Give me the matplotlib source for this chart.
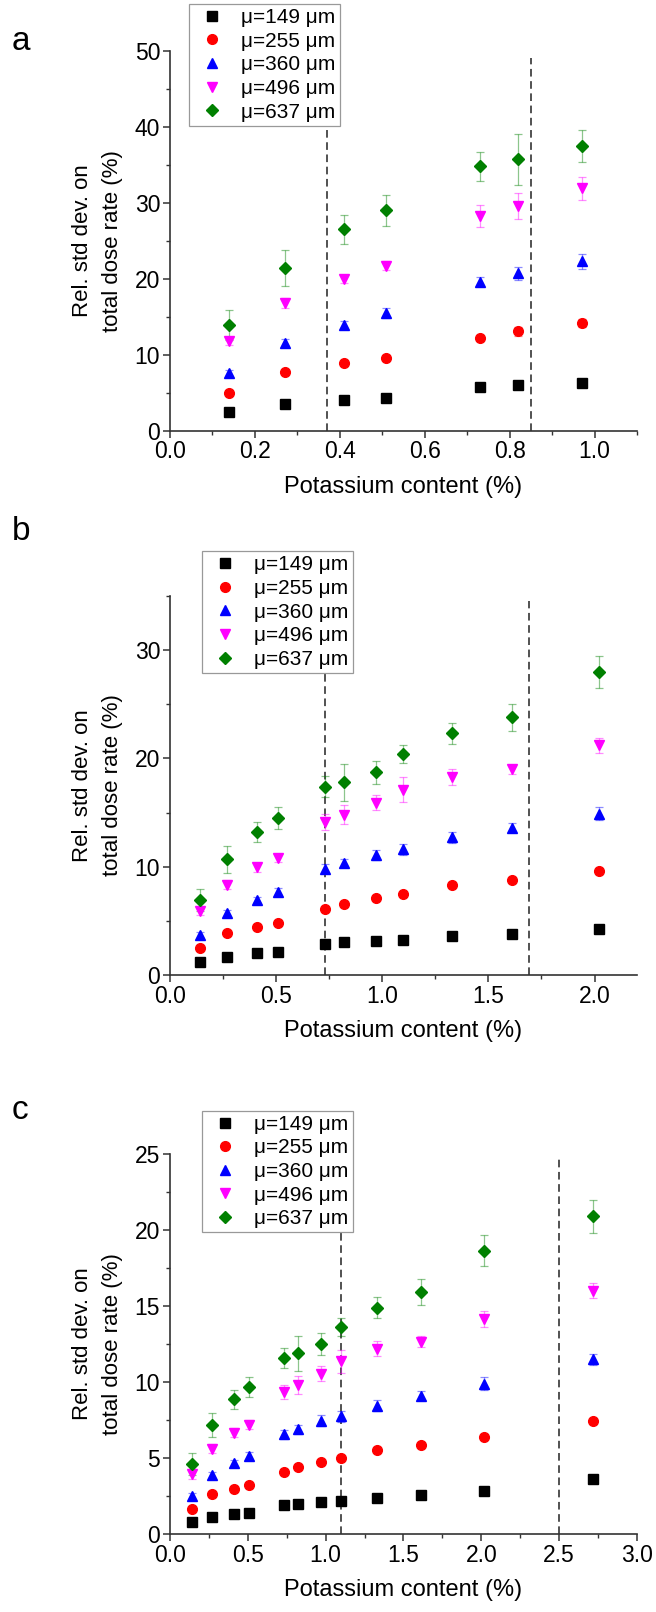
"""
Relative standard deviation on the total dose rate versus potassium content,
for five mean grain sizes (three sample sets a, b, c).
"""

import matplotlib
matplotlib.use("Agg")
import matplotlib.pyplot as plt
from matplotlib.ticker import MultipleLocator, FormatStrFormatter

plt.rcParams["font.family"] = ["Liberation Sans", "DejaVu Sans"]

# ── series definitions ───────────────────────────────────────────────────────
LABELS = ["μ=149 μm", "μ=255 μm", "μ=360 μm", "μ=496 μm", "μ=637 μm"]
COLORS = ["#000000", "#ff0000", "#0000ff", "#ff00ff", "#008000"]
MARKERS = ["s", "o", "^", "v", "D"]

# ── set a ────────────────────────────────────────────────────────────────────
K_A = [0.14, 0.27, 0.41, 0.51, 0.73, 0.82, 0.97]
A_149 = [2.4, 3.5, 4.0, 4.3, 5.7, 6.0, 6.25]
A_255 = [5.0, 7.7, 8.9, 9.6, 12.2, 13.1, 14.2]
A_360 = [7.6, 11.6, 13.9, 15.5, 19.6, 20.7, 22.3]
A_496 = [11.8, 16.8, 20.0, 21.7, 28.3, 29.6, 31.9]
A_637 = [13.9, 21.4, 26.5, 29.0, 34.8, 35.7, 37.5]
A_149_ERR = [0.2, 0.2, 0.2, 0.2, 0.2, 0.2, 0.2]
A_255_ERR = [0.3, 0.3, 0.3, 0.3, 0.4, 0.6, 0.5]
A_360_ERR = [0.4, 0.5, 0.5, 0.6, 0.6, 0.8, 1.0]
A_496_ERR = [0.5, 0.7, 0.5, 0.6, 1.45, 1.7, 1.5]
A_637_ERR = [2.0, 2.4, 1.9, 2.0, 1.9, 3.4, 2.1]
A_BOUNDS = [0.37, 0.85]

# ── set b ────────────────────────────────────────────────────────────────────
K_B = [0.14, 0.27, 0.41, 0.51, 0.73, 0.82, 0.97, 1.10, 1.33, 1.61, 2.02]
B_149 = [1.2, 1.7, 2.0, 2.15, 2.85, 3.0, 3.1, 3.2, 3.55, 3.8, 4.2]
B_255 = [2.5, 3.85, 4.45, 4.8, 6.1, 6.55, 7.1, 7.5, 8.35, 8.75, 9.6]
B_360 = [3.7, 5.7, 6.9, 7.7, 9.8, 10.35, 11.1, 11.6, 12.7, 13.6, 14.9]
B_496 = [5.9, 8.35, 9.95, 10.8, 14.1, 14.8, 15.9, 17.1, 18.3, 19.0, 21.2]
B_637 = [6.9, 10.7, 13.2, 14.5, 17.4, 17.8, 18.7, 20.4, 22.3, 23.8, 28.0]
B_149_ERR = [0.15] * 11
B_255_ERR = [0.2, 0.2, 0.2, 0.2, 0.2, 0.2, 0.2, 0.2, 0.25, 0.3, 0.3]
B_360_ERR = [0.3, 0.3, 0.3, 0.35, 0.4, 0.4, 0.45, 0.5, 0.5, 0.4, 0.6]
B_496_ERR = [0.4, 0.4, 0.4, 0.4, 0.75, 0.85, 0.7, 1.15, 0.75, 0.4, 0.7]
B_637_ERR = [1.0, 1.25, 0.95, 1.0, 1.0, 1.7, 1.05, 0.8, 1.0, 1.25, 1.5]
B_BOUNDS = [0.73, 1.69]

# ── set c ────────────────────────────────────────────────────────────────────
K_C = [0.14, 0.27, 0.41, 0.51, 0.73, 0.82, 0.97, 1.10, 1.33, 1.61, 2.02, 2.72]
C_149 = [0.8, 1.15, 1.3, 1.4, 1.9, 2.0, 2.1, 2.15, 2.4, 2.55, 2.85, 3.6]
C_255 = [1.65, 2.6, 2.95, 3.2, 4.1, 4.4, 4.75, 5.0, 5.55, 5.85, 6.4, 7.45]
C_360 = [2.5, 3.85, 4.65, 5.15, 6.55, 6.9, 7.45, 7.75, 8.45, 9.1, 9.9, 11.5]
C_496 = [3.95, 5.6, 6.65, 7.2, 9.35, 9.8, 10.55, 11.35, 12.2, 12.65, 14.15, 16.0]
C_637 = [4.6, 7.15, 8.85, 9.65, 11.6, 11.9, 12.5, 13.6, 14.9, 15.9, 18.65, 20.9]
C_149_ERR = [0.1] * 12
C_255_ERR = [0.15] * 11 + [0.2]
C_360_ERR = [0.2, 0.2, 0.25, 0.25, 0.3, 0.3, 0.35, 0.35, 0.35, 0.3, 0.4, 0.35]
C_496_ERR = [0.3, 0.3, 0.3, 0.3, 0.45, 0.6, 0.5, 0.75, 0.5, 0.35, 0.5, 0.5]
C_637_ERR = [0.7, 0.8, 0.6, 0.65, 0.65, 1.15, 0.7, 0.6, 0.7, 0.85, 1.0, 1.1]
C_BOUNDS = [1.10, 2.50]

# (letter, x, series, errors, bounds, xmax, xmajor, ymax, ymajor, dash_top,
#  axes rect, legend anchor in figure coords, letter baseline)
PANELS = [
    ("a", K_A, [A_149, A_255, A_360, A_496, A_637],
     [A_149_ERR, A_255_ERR, A_360_ERR, A_496_ERR, A_637_ERR], A_BOUNDS,
     1.1, 0.2, 50, 10, 49.0, [0.259, 0.7328, 0.712, 0.2357], (0.288, 0.9975),
     0.969),
    ("b", K_B, [B_149, B_255, B_360, B_496, B_637],
     [B_149_ERR, B_255_ERR, B_360_ERR, B_496_ERR, B_637_ERR], B_BOUNDS,
     2.2, 0.5, 35, 10, 34.5, [0.259, 0.3952, 0.712, 0.2351], (0.308, 0.658),
     0.665),
    ("c", K_C, [C_149, C_255, C_360, C_496, C_637],
     [C_149_ERR, C_255_ERR, C_360_ERR, C_496_ERR, C_637_ERR], C_BOUNDS,
     3.0, 0.5, 25, 5, 24.8, [0.259, 0.0484, 0.712, 0.2357], (0.308, 0.311),
     0.306),
]


def draw_panel(fig, letter, x, series, errors, bounds, xmax, xmajor, ymax,
               ymajor, dash_top, rect, legend_anchor, letter_y):
    ax = fig.add_axes(rect)

    ax.vlines(bounds, 0, dash_top, colors="#222222", linestyles=(0, (5, 3)),
              linewidth=1.1, zorder=1)

    handles = []
    for vals, err, label, color, marker in zip(series, errors, LABELS, COLORS, MARKERS):
        ax.errorbar(x, vals, yerr=err, fmt="none", ecolor=color, alpha=0.45,
                    elinewidth=0.9, capsize=3, capthick=0.9, zorder=2)
        ms = 6.5 if marker == "D" else 7.0
        h, = ax.plot(x, vals, linestyle="none", marker=marker, color=color,
                     markersize=ms, label=label, zorder=3)
        handles.append(h)

    ax.set_xlim(0, xmax)
    ax.set_ylim(0, ymax)
    ax.xaxis.set_major_locator(MultipleLocator(xmajor))
    ax.xaxis.set_minor_locator(MultipleLocator(xmajor / 2))
    ax.xaxis.set_major_formatter(FormatStrFormatter("%.1f"))
    ax.yaxis.set_major_locator(MultipleLocator(ymajor))
    ax.yaxis.set_minor_locator(MultipleLocator(ymajor / 2))

    for side in ("top", "right"):
        ax.spines[side].set_visible(False)
    for side in ("left", "bottom"):
        ax.spines[side].set_linewidth(1.2)
        ax.spines[side].set_color("#333333")
    ax.tick_params(which="major", direction="out", length=5, width=1.1,
                   labelsize=16.5, color="#333333", pad=2)
    ax.tick_params(which="minor", direction="out", length=3, width=1.0,
                   color="#333333")

    ax.set_xlabel("Potassium content (%)", fontsize=17, labelpad=9)
    ax.set_ylabel("Rel. std dev. on\ntotal dose rate (%)", fontsize=16,
                  linespacing=1.6)
    ax.yaxis.set_label_coords(-0.10, 0.5)

    leg = fig.legend(handles=handles, loc="upper left",
                     bbox_to_anchor=legend_anchor, fontsize=15,
                     frameon=True, framealpha=1.0, fancybox=False,
                     borderpad=0.2, labelspacing=0.22, handletextpad=0.5,
                     handlelength=1.8, borderaxespad=0)
    leg.get_frame().set_edgecolor("#999999")
    leg.get_frame().set_linewidth(0.9)
    leg.set_zorder(5)

    fig.text(0.018, letter_y, letter, fontsize=24, ha="left", va="baseline")
    return ax


def main():
    fig = plt.figure(figsize=(6.56, 16.12), dpi=100)
    for panel in PANELS:
        draw_panel(fig, *panel)
    fig.savefig("out.png", dpi=100)


if __name__ == "__main__":
    main()
